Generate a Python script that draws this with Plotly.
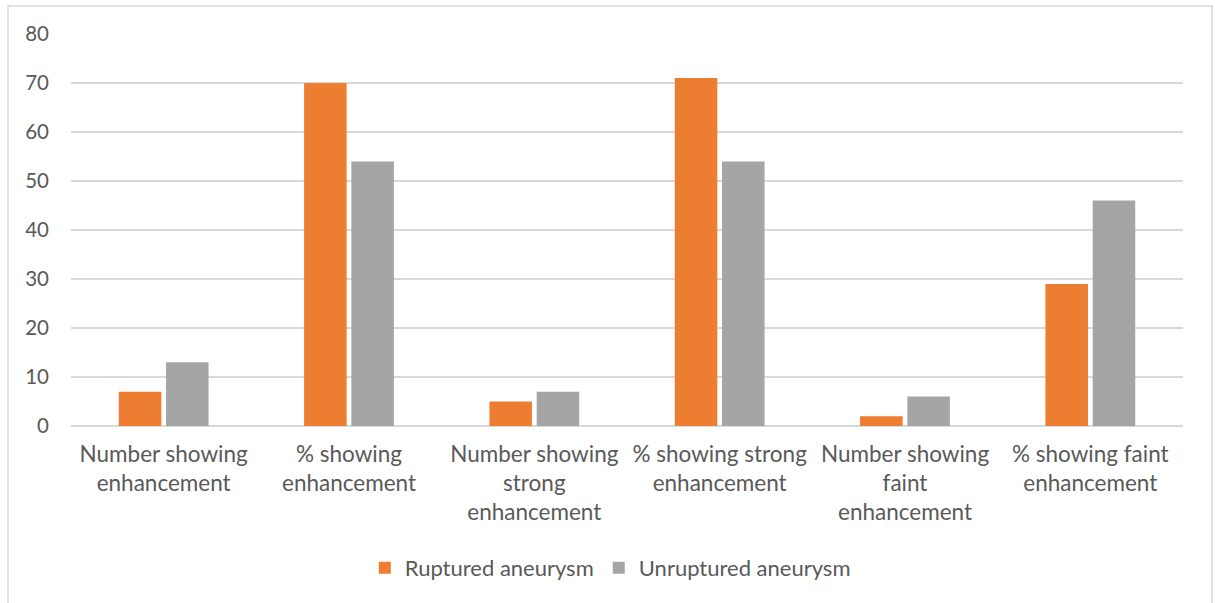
import plotly.graph_objects as go

categories = [
    "Number showing<br>enhancement",
    "% showing<br>enhancement",
    "Number showing<br>strong<br>enhancement",
    "% showing strong<br>enhancement",
    "Number showing<br>faint<br>enhancement",
    "% showing faint<br>enhancement",
]
ruptured = [7, 70, 5, 71, 2, 29]
unruptured = [13, 54, 7, 54, 6, 46]
y_ticks = [0, 10, 20, 30, 40, 50, 60, 70, 80]

W, H = 1215, 603
ml, mr, mt, mb = 71, 32, 34, 177
pw, ph = W - ml - mr, H - mt - mb

font = "Lato, 'Open Sans', sans-serif"
text_col = "#595959"

fig = go.Figure()
fig.add_trace(go.Bar(name="Ruptured aneurysm", x=categories, y=ruptured,
                     marker=dict(color="#ED7D31", line=dict(width=0))))
fig.add_trace(go.Bar(name="Unruptured aneurysm", x=categories, y=unruptured,
                     marker=dict(color="#A5A5A5", line=dict(width=0))))

# outer chart border
fig.add_shape(type="rect", xref="paper", yref="paper",
              x0=(8 - ml) / pw, x1=(1212 - ml) / pw,
              y0=(H - mb - 610) / ph, y1=(H - mb - 6) / ph,
              line=dict(color="#D9D9D9", width=1.5), fillcolor="rgba(0,0,0,0)",
              layer="below")

fig.update_layout(
    width=W, height=H,
    margin=dict(l=ml, r=mr, t=mt, b=mb),
    paper_bgcolor="white", plot_bgcolor="white",
    barmode="group", bargap=0.49, bargroupgap=0.1,
    font=dict(family=font, size=20, color=text_col),
    showlegend=True,
    legend=dict(orientation="h", x=0.485, xanchor="center", y=-0.362, yanchor="middle",
                font=dict(size=22, color=text_col), itemwidth=30,
                traceorder="normal"),
    xaxis=dict(showgrid=False, showline=False, ticks="", tickfont=dict(size=22.5),
               ticklabelstandoff=12, fixedrange=True),
    yaxis=dict(range=[0, 80], tickvals=y_ticks, showgrid=True, gridcolor="#D9D9D9",
               gridwidth=1.5, zeroline=True, zerolinecolor="#D9D9D9", zerolinewidth=1.5,
               showline=False, ticks="", ticklabelstandoff=21, tickfont=dict(size=20.5)),
)

fig.write_html("out.html")
